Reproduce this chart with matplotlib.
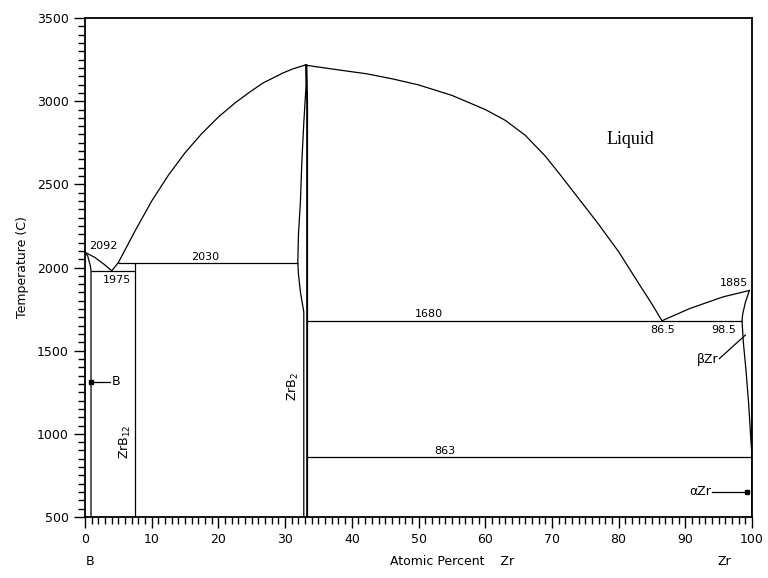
import numpy as np
import matplotlib.pyplot as plt
from matplotlib.ticker import MultipleLocator

plt.rcParams['font.family'] = ['DejaVu Sans']
plt.rcParams['mathtext.default'] = 'regular'

# liquidus, B side (B melting point -> eutectic -> peritectic -> ZrB2 congruent max)
liq_b_x = [0.0, 1.5, 3.0, 4.0, 5.0]
liq_b_t = [2092, 2060, 2015, 1980, 2030]
liq_zrb2_left_x = [5.0, 7.5, 10.0, 12.5, 15.0, 17.5, 20.0, 22.5, 24.7, 26.7, 29.7, 31.2, 33.0]
liq_zrb2_left_t = [2030, 2220, 2400, 2555, 2690, 2805, 2905, 2990, 3055, 3110, 3170, 3195, 3217]
liq_zrb2_right_x = [33.0, 34.7, 38.2, 42.2, 46.0, 50.0, 55.0, 60.0, 63.0, 66.0, 69.0, 71.2,
                    74.2, 77.0, 80.0, 83.0, 85.0, 86.5]
liq_zrb2_right_t = [3217, 3207, 3187, 3165, 3135, 3098, 3035, 2950, 2885, 2795, 2670, 2560,
                    2405, 2260, 2095, 1905, 1780, 1680]
liq_zr_x = [86.5, 90.7, 95.7, 99.6]
liq_zr_t = [1680, 1754, 1824, 1862]

# boron solidus and solubility
b_sol_x = [0.0, 0.4, 0.8, 0.9, 0.9]
b_sol_t = [2092, 2070, 2010, 1980, 500]

# ZrB2 phase boundaries
zrb2_left_x = [33.1, 33.15, 32.8, 32.5, 32.3, 32.0, 31.9, 32.0, 32.3, 32.6, 32.8, 32.8]
zrb2_left_t = [3217, 3100, 2870, 2630, 2400, 2200, 2030, 1960, 1850, 1780, 1734, 500]
zrb2_right_x = [33.2, 33.3, 33.3]
zrb2_right_t = [3217, 3000, 500]

# beta-Zr solidus / solvus
bzr_x = [99.6, 99.0, 98.6, 98.5, 98.7, 99.1, 99.5, 99.8, 100.0]
bzr_t = [1862, 1790, 1720, 1680, 1550, 1380, 1180, 980, 863]

# invariant lines: (x start, x end, temperature)
inv_x0 = [0.9, 5.0, 33.3, 33.3]
inv_x1 = [7.5, 31.9, 98.5, 100.0]
inv_t = [1978, 2030, 1680, 863]

zrb12_x = 7.5
zrb12_t = [2030, 500]
zr_x = 100.0
zr_t = [1862, 500]

labels = ['2092', '1975', '2030', '1680', '863', '86.5', '98.5', '1885']
label_x = [2.7, 4.8, 18.0, 51.5, 54.0, 86.6, 95.8, 97.3]
label_t = [2128, 1925, 2065, 1718, 898, 1622, 1622, 1908]

fig = plt.figure(figsize=(7.68, 5.78), dpi=100)
ax = fig.add_axes([0.1107, 0.1055, 0.8685, 0.8633])

lw = 0.9
kw = dict(color='black', lw=lw)
ax.plot(liq_b_x, liq_b_t, **kw)
ax.plot(liq_zrb2_left_x, liq_zrb2_left_t, **kw)
ax.plot(liq_zrb2_right_x, liq_zrb2_right_t, **kw)
ax.plot(liq_zr_x, liq_zr_t, **kw)
ax.plot(b_sol_x, b_sol_t, **kw)
ax.plot(zrb2_left_x, zrb2_left_t, **kw)
ax.plot(zrb2_right_x, zrb2_right_t, color='black', lw=1.4)
ax.plot(bzr_x, bzr_t, **kw)
ax.hlines(inv_t, inv_x0, inv_x1, **kw)
ax.vlines(zrb12_x, *zrb12_t, **kw)
ax.vlines(zr_x, *zr_t, color='black', lw=1.4)

for s, x, t in zip(labels, label_x, label_t):
    ax.text(x, t, s, fontsize=8, ha='center', va='center')

ax.text(81.7, 2770, 'Liquid', family='Liberation Serif', fontsize=13, ha='center', va='center')

# phase labels with pointers
ax.plot([0.9, 3.8], [1313, 1313], **kw)
ax.plot([0.9], [1313], 'ks', ms=2.5)
ax.text(4.0, 1313, 'B', fontsize=9, ha='left', va='center')

ax.plot([95.1, 99.0], [1452, 1594], **kw)
ax.text(94.9, 1445, 'βZr', fontsize=9, ha='right', va='center')

ax.plot([94.0, 99.3], [652, 652], **kw)
ax.plot([99.3], [652], 'ks', ms=2.5)
ax.text(93.8, 652, 'αZr', fontsize=9, ha='right', va='center')

ax.text(6.0, 950, 'ZrB$_{12}$', fontsize=9, rotation=90, ha='center', va='center')
ax.text(31.2, 1285, 'ZrB$_2$', fontsize=9, rotation=90, ha='center', va='center')

ax.set_xlim(0, 100)
ax.set_ylim(500, 3500)
ax.xaxis.set_major_locator(MultipleLocator(10))
ax.xaxis.set_minor_locator(MultipleLocator(1))
ax.yaxis.set_major_locator(MultipleLocator(500))
ax.yaxis.set_minor_locator(MultipleLocator(50))
ax.tick_params(which='major', length=8, width=1, labelsize=9, direction='out')
ax.tick_params(which='minor', length=5, width=1, direction='out')
for sp in ax.spines.values():
    sp.set_linewidth(1.3)

ax.set_ylabel('Temperature (C)', fontsize=9, labelpad=6)
xt = ax.get_xaxis_transform()
ax.text(0.8, -0.09, 'B', transform=xt, fontsize=9, ha='center', va='center')
ax.text(55, -0.09, 'Atomic Percent    Zr', transform=xt, fontsize=9, ha='center', va='center')
ax.text(95.8, -0.09, 'Zr', transform=xt, fontsize=9, ha='center', va='center')

fig.savefig('out.png', dpi=100)
